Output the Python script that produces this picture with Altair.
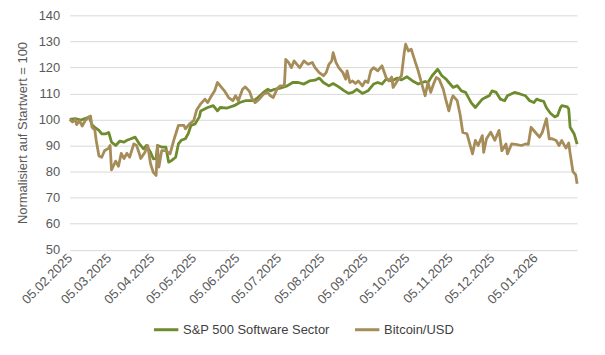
import altair as alt
import pandas as pd

sp_dates = [
    "2025-02-05", "2025-02-09", "2025-02-13", "2025-02-17", "2025-02-19", "2025-02-21", "2025-02-23",
    "2025-02-26", "2025-02-28", "2025-03-03", "2025-03-05", "2025-03-07", "2025-03-10", "2025-03-13",
    "2025-03-16", "2025-03-18", "2025-03-21", "2025-03-24", "2025-03-27", "2025-03-30", "2025-04-01",
    "2025-04-04", "2025-04-06", "2025-04-08", "2025-04-09", "2025-04-12", "2025-04-15", "2025-04-17",
    "2025-04-19", "2025-04-22", "2025-04-24", "2025-04-26", "2025-04-29", "2025-05-01", "2025-05-03",
    "2025-05-06", "2025-05-09", "2025-05-10", "2025-05-15", "2025-05-19", "2025-05-22", "2025-05-24",
    "2025-05-29", "2025-06-03", "2025-06-07", "2025-06-11", "2025-06-17", "2025-06-20", "2025-06-24",
    "2025-06-27", "2025-06-29", "2025-07-02", "2025-07-06", "2025-07-11", "2025-07-15", "2025-07-19",
    "2025-07-23", "2025-07-27", "2025-07-31", "2025-08-03", "2025-08-06", "2025-08-10", "2025-08-13",
    "2025-08-17", "2025-08-21", "2025-08-24", "2025-08-27", "2025-08-30", "2025-09-03", "2025-09-07",
    "2025-09-11", "2025-09-14", "2025-09-17", "2025-09-20", "2025-09-24", "2025-09-28", "2025-10-01",
    "2025-10-05", "2025-10-09", "2025-10-13", "2025-10-18", "2025-10-20", "2025-10-23", "2025-10-27",
    "2025-10-30", "2025-11-02", "2025-11-04", "2025-11-07", "2025-11-10", "2025-11-13", "2025-11-16",
    "2025-11-20", "2025-11-23", "2025-11-25", "2025-11-28", "2025-11-30", "2025-12-03", "2025-12-05",
    "2025-12-08", "2025-12-11", "2025-12-14", "2025-12-16", "2025-12-21", "2025-12-25", "2025-12-29",
    "2026-01-01", "2026-01-04", "2026-01-06", "2026-01-09", "2026-01-11", "2026-01-13", "2026-01-16",
    "2026-01-19", "2026-01-21", "2026-01-23", "2026-01-24", "2026-01-28", "2026-01-29", "2026-01-30",
    "2026-02-02", "2026-02-04",
]
sp_values = [
    100, 100.3, 99.8, 100.5, 101, 98, 97,
    95.8, 94.5, 94.5, 95, 91.3, 90, 91.7,
    91.3, 92, 92.6, 93.2, 90.6, 88.7, 90,
    87.4, 84.9, 85, 90, 89.4, 89.4, 83.6,
    84.2, 85.5, 90.6, 92, 92.6, 94.5, 97.7,
    98.3, 101, 103.3, 104.6, 105.3, 103.3, 104.6,
    104.4, 105.3, 106.5, 107.2, 107.2, 108.4, 110.4,
    111.6, 111, 111.6, 112, 112.9, 114.2, 114.2,
    113.6, 114.8, 115.1, 115.9, 114.2, 112.9, 113.8,
    112.5, 111, 110, 110.4, 111.6, 110, 111,
    113.6, 114.2, 113.6, 115.5, 114.8, 115.9, 115.2,
    116.4, 114.8, 113.6, 114.6, 114.2, 116.8, 119.3,
    116.8, 115.5, 114.2, 112.3, 113, 111, 110.4,
    106.5, 104.6, 105.9, 107.8, 108.4, 109.1, 111,
    110.4, 107.8, 107.2, 109.1, 110.4, 109.8, 109.1,
    107.2, 106.5, 107.8, 107.2, 107, 104.5, 102.3,
    101, 101.5, 104.5, 105.3, 104.8, 104, 97,
    94.3, 90.5,
]

btc_dates = [
    "2025-02-05", "2025-02-07", "2025-02-09", "2025-02-10", "2025-02-12", "2025-02-14", "2025-02-16",
    "2025-02-18", "2025-02-20", "2025-02-21", "2025-02-23", "2025-02-24", "2025-02-26", "2025-02-28",
    "2025-03-02", "2025-03-05", "2025-03-06", "2025-03-07", "2025-03-10", "2025-03-12", "2025-03-14",
    "2025-03-16", "2025-03-18", "2025-03-20", "2025-03-23", "2025-03-25", "2025-03-27", "2025-03-28",
    "2025-03-31", "2025-04-02", "2025-04-04", "2025-04-06", "2025-04-08", "2025-04-09", "2025-04-10",
    "2025-04-12", "2025-04-15", "2025-04-18", "2025-04-21", "2025-04-24", "2025-04-28", "2025-04-29",
    "2025-05-02", "2025-05-05", "2025-05-07", "2025-05-10", "2025-05-13", "2025-05-15", "2025-05-17",
    "2025-05-20", "2025-05-22", "2025-05-24", "2025-05-27", "2025-05-30", "2025-06-02", "2025-06-04",
    "2025-06-06", "2025-06-09", "2025-06-11", "2025-06-14", "2025-06-16", "2025-06-18", "2025-06-21",
    "2025-06-24", "2025-06-27", "2025-06-29", "2025-07-01", "2025-07-04", "2025-07-06", "2025-07-09",
    "2025-07-10", "2025-07-12", "2025-07-14", "2025-07-16", "2025-07-18", "2025-07-20", "2025-07-23",
    "2025-07-26", "2025-07-29", "2025-07-31", "2025-08-03", "2025-08-06", "2025-08-08", "2025-08-10",
    "2025-08-12", "2025-08-13", "2025-08-15", "2025-08-17", "2025-08-20", "2025-08-22", "2025-08-23",
    "2025-08-25", "2025-08-27", "2025-08-29", "2025-08-31", "2025-09-03", "2025-09-05", "2025-09-07",
    "2025-09-09", "2025-09-11", "2025-09-14", "2025-09-17", "2025-09-20", "2025-09-22", "2025-09-24",
    "2025-09-25", "2025-09-28", "2025-10-01", "2025-10-03", "2025-10-04", "2025-10-06", "2025-10-08",
    "2025-10-11", "2025-10-13", "2025-10-16", "2025-10-18", "2025-10-20", "2025-10-22", "2025-10-24",
    "2025-10-26", "2025-10-28", "2025-10-31", "2025-11-02", "2025-11-04", "2025-11-06", "2025-11-07",
    "2025-11-10", "2025-11-12", "2025-11-14", "2025-11-17", "2025-11-19", "2025-11-21", "2025-11-23",
    "2025-11-25", "2025-11-28", "2025-11-29", "2025-12-01", "2025-12-04", "2025-12-07", "2025-12-10",
    "2025-12-12", "2025-12-15", "2025-12-16", "2025-12-19", "2025-12-22", "2025-12-26", "2025-12-29",
    "2025-12-31", "2026-01-02", "2026-01-05", "2026-01-08", "2026-01-10", "2026-01-13", "2026-01-15",
    "2026-01-17", "2026-01-20", "2026-01-22", "2026-01-24", "2026-01-27", "2026-01-29", "2026-01-30",
    "2026-02-01", "2026-02-03", "2026-02-04",
]
btc_values = [
    100, 99, 100, 98, 99.5, 97.5, 99.5,
    100.5, 101.3, 97, 96, 92, 86, 85.5,
    88, 89, 90, 80.6, 84, 82, 87,
    85, 87, 85.5, 90.6, 90, 86.8, 85,
    87.4, 90, 83, 79.7, 78.5, 90, 81.7,
    88, 88, 86.8, 92.6, 97.7, 97.7, 96.4,
    98.3, 99.6, 103.5, 106, 107.8, 106.5, 108.4,
    111, 114.2, 112.9, 111, 108.4, 107.2, 109.1,
    107.2, 111.6, 112.5, 110.8, 107.8, 106.5, 107.8,
    109.7, 110.4, 109.1, 108.4, 112, 112.9, 113,
    123.1, 121.9, 119.9, 122.5, 121.2, 119.9, 122.5,
    121.2, 121.9, 119.9, 118, 116.8, 118, 121.2,
    122.5, 125.7, 121.9, 119.9, 118, 115.5, 118.7,
    114.2, 114.8, 113.8, 114.8, 112.9, 114.8, 114.2,
    118.7, 119.9, 118.7, 120.6, 116.1, 114.8, 116.3,
    112.3, 114.8, 116.8, 125.7, 128.9, 126.3, 127,
    121.9, 118.7, 112.9, 109.1, 114.2, 110.4, 113.6,
    116.1, 115.5, 111.6, 107.2, 103.3, 107.8, 109.1,
    107.2, 102.1, 95, 94.5, 90.6, 86.8, 92,
    90, 93.8, 87.4, 92.6, 95.1, 92, 95.8,
    88, 90.6, 86.8, 90.6, 90.4, 90, 90.6,
    90.4, 97, 95.1, 93.2, 95, 100.3, 92.6,
    92.6, 91.9, 90, 91.9, 89, 91, 87,
    80, 78.7, 75.3,
]

series_names = ["S&P 500 Software Sector", "Bitcoin/USD"]
series_colors = ["#6e8b2d", "#a68c58"]
tick_dates = [
    "2025-02-05", "2025-03-05", "2025-04-05", "2025-05-05", "2025-06-05", "2025-07-05",
    "2025-08-05", "2025-09-05", "2025-10-05", "2025-11-05", "2025-12-05", "2026-01-05",
]
y_ticks = [50, 60, 70, 80, 90, 100, 110, 120, 130, 140]

df = pd.concat([
    pd.DataFrame({"date": sp_dates, "value": sp_values, "series": series_names[0], "ord": 0}),
    pd.DataFrame({"date": btc_dates, "value": btc_values, "series": series_names[1], "ord": 1}),
], ignore_index=True)


def dt(s):
    y, m, d = (int(p) for p in s.split("-"))
    return alt.DateTime(year=y, month=m, date=d, utc=True)


font = "Liberation Sans"
chart = alt.Chart(df).mark_line(strokeWidth=2.8, strokeJoin="round").encode(
    x=alt.X(
        "date:T",
        scale=alt.Scale(type="utc", domain=[dt("2025-02-05"), dt("2026-02-04")]),
        axis=alt.Axis(
            values=[dt(s) for s in tick_dates],
            labelExpr="utcFormat(datum.value, '%d.%m.%Y')",
            labelAngle=-45,
            labelAlign="right",
            labelBaseline="middle",
            labelPadding=6,
            labelFont=font,
            labelFontSize=13,
            labelColor="#595959",
            labelOverlap=False,
            labelBound=False,
            labelFlush=False,
            domain=False,
            ticks=False,
            grid=False,
            title=None,
        ),
    ),
    y=alt.Y(
        "value:Q",
        scale=alt.Scale(domain=[50, 140], nice=False, zero=False),
        axis=alt.Axis(
            values=y_ticks,
            labelFont=font,
            labelFontSize=13,
            labelColor="#595959",
            labelPadding=10,
            domain=False,
            ticks=False,
            grid=True,
            gridColor="#d9d9d9",
            gridWidth=1,
            title="Normalisiert auf Startwert = 100",
            titleFont=font,
            titleFontSize=13,
            titleFontWeight="normal",
            titleColor="#595959",
            titlePadding=9,
        ),
    ),
    color=alt.Color(
        "series:N",
        scale=alt.Scale(domain=series_names, range=series_colors),
        legend=alt.Legend(
            title=None,
            orient="none",
            legendX=83,
            legendY=302,
            direction="horizontal",
            symbolType="stroke",
            symbolStrokeWidth=3,
            symbolSize=600,
            labelFont=font,
            labelFontSize=13,
            labelColor="#404040",
            labelOffset=3,
            columnPadding=18,
        ),
    ),
    order=alt.Order("ord:Q"),
).properties(
    width=510,
    height=235.5,
    autosize=alt.AutoSizeParams(type="none"),
    padding={"left": 62, "top": 6.5, "right": 20, "bottom": 100},
).configure_view(stroke=None)

chart.save("out.html", embed_options={"renderer": "svg", "actions": False})
